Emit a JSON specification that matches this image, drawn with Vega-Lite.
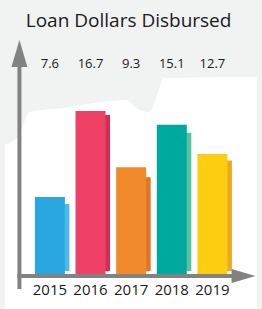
{
  "$schema": "https://vega.github.io/schema/vega-lite/v6.json",
  "width": 262,
  "height": 309,
  "autosize": {"type": "none"},
  "padding": 0,
  "background": "#f1f2f2",
  "config": {"view": {"stroke": null}},
  "datasets": {
    "loans": [
      {"year": 2015, "label": 7.6, "bar": 8.0, "shadow": 7.3},
      {"year": 2016, "label": 16.7, "bar": 16.7, "shadow": 16.3},
      {"year": 2017, "label": 9.3, "bar": 11.0, "shadow": 10.0},
      {"year": 2018, "label": 15.1, "bar": 15.3, "shadow": 14.5},
      {"year": 2019, "label": 12.7, "bar": 12.35, "shadow": 11.7}
    ],
    "map": [
      {"x": 2013.895, "y": 13.26},
      {"x": 2014.25, "y": 14.27},
      {"x": 2014.487, "y": 16.6},
      {"x": 2015.315, "y": 17.0},
      {"x": 2016.262, "y": 17.61},
      {"x": 2016.854, "y": 17.81},
      {"x": 2017.209, "y": 16.8},
      {"x": 2017.446, "y": 16.6},
      {"x": 2017.683, "y": 18.83},
      {"x": 2017.801, "y": 20.04},
      {"x": 2020.098, "y": 20.14}
    ],
    "one": [{}]
  },
  "layer": [
    {
      "data": {"name": "map"},
      "mark": {"type": "area", "color": "white", "interpolate": "monotone"},
      "encoding": {
        "x": {"field": "x", "type": "quantitative", "axis": null, "scale": {"domain": [2013.895, 2020.097], "nice": false, "zero": false}},
        "y": {"field": "y", "type": "quantitative", "axis": null, "scale": {"domain": [-3.34, 27.94], "nice": false, "zero": false}},
        "y2": {"datum": -3.5}
      }
    },
    {
      "data": {"name": "loans"},
      "mark": {"type": "bar", "width": 30, "xOffset": 4.5},
      "encoding": {
        "x": {"field": "year", "type": "quantitative"},
        "y": {"field": "shadow", "type": "quantitative"},
        "y2": {"datum": 0.5},
        "color": {"field": "year", "type": "nominal", "legend": null,
          "scale": {"range": ["#4db9ea", "#d02f52", "#e07528", "#5bbfa0", "#ebaa22"]}}
      }
    },
    {
      "data": {"name": "loans"},
      "mark": {"type": "bar", "width": 30},
      "encoding": {
        "x": {"field": "year", "type": "quantitative"},
        "y": {"field": "bar", "type": "quantitative"},
        "y2": {"datum": 0},
        "fill": {"field": "year", "type": "nominal", "legend": null,
          "scale": {"range": ["#29a8e0", "#ef4066", "#f08a2b", "#00a99d", "#fdcd11"]}}
      }
    },
    {
      "data": {"name": "one"},
      "mark": {"type": "rule", "color": "#828282", "strokeWidth": 4},
      "encoding": {
        "x": {"datum": 2014.25},
        "y": {"datum": -1.32},
        "y2": {"datum": 21.9}
      }
    },
    {
      "data": {"name": "one"},
      "mark": {"type": "rule", "color": "#828282", "strokeWidth": 4},
      "encoding": {
        "x": {"datum": 2014.2},
        "x2": {"datum": 2019.58},
        "y": {"datum": 0}
      }
    },
    {
      "data": {"name": "one"},
      "mark": {"type": "point", "filled": true, "opacity": 1, "color": "#828282", "size": 729, "shape": "M0,-1L0.59,1L-0.59,1Z"},
      "encoding": {
        "x": {"datum": 2014.25},
        "y": {"datum": 22.52}
      }
    },
    {
      "data": {"name": "one"},
      "mark": {"type": "point", "filled": true, "opacity": 1, "color": "#828282", "size": 576, "shape": "M1,0L-1,-0.58L-1,0.58Z"},
      "encoding": {
        "x": {"datum": 2019.766},
        "y": {"datum": 0}
      }
    },
    {
      "data": {"name": "loans"},
      "mark": {"type": "text", "font": "Open Sans", "fontSize": 13, "color": "#1a1a1a", "baseline": "alphabetic"},
      "encoding": {
        "x": {"field": "year", "type": "quantitative"},
        "y": {"datum": 21.05},
        "text": {"field": "label", "type": "quantitative", "format": ".1f"}
      }
    },
    {
      "data": {"name": "loans"},
      "mark": {"type": "text", "font": "Open Sans", "fontSize": 15, "color": "#1a1a1a", "baseline": "alphabetic"},
      "encoding": {
        "x": {"field": "year", "type": "quantitative"},
        "y": {"datum": -1.92},
        "text": {"field": "year", "type": "nominal"}
      }
    },
    {
      "data": {"name": "one"},
      "mark": {"type": "text", "text": "Loan Dollars Disbursed", "font": "Open Sans", "fontSize": 19, "color": "#1a1a1a", "baseline": "alphabetic"},
      "encoding": {
        "x": {"datum": 2016.937},
        "y": {"datum": 25.2}
      }
    }
  ],
  "resolve": {"scale": {"color": "independent", "fill": "independent"}}
}
